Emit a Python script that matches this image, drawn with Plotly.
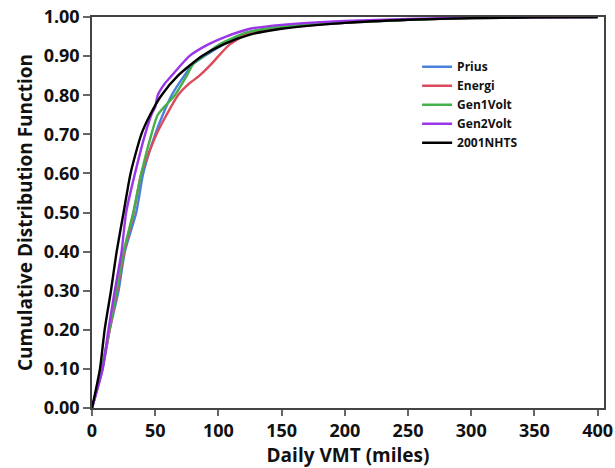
import plotly.graph_objects as go

# Cumulative distribution of daily vehicle miles travelled (VMT)
prius_x = [0, 8.4, 14, 21, 26, 35, 40.5, 50, 56, 63, 73, 80, 89, 104, 122, 150, 200, 250, 300, 350, 400]
prius_y = [0, 0.10, 0.20, 0.30, 0.40, 0.50, 0.60, 0.70, 0.75, 0.80, 0.85, 0.88, 0.90, 0.93, 0.96, 0.975, 0.985, 0.993, 0.997, 0.999, 1.0]

energi_x = [0, 8, 14, 20, 25.5, 33, 39, 51, 59, 68, 77, 85, 94.5, 100, 109, 125, 150, 200, 250, 300, 350, 400]
energi_y = [0, 0.10, 0.20, 0.30, 0.40, 0.50, 0.60, 0.70, 0.75, 0.80, 0.83, 0.85, 0.88, 0.90, 0.93, 0.96, 0.972, 0.985, 0.993, 0.997, 0.999, 1.0]

gen1_x = [0, 7.6, 13.7, 19.5, 25, 32.6, 39, 47, 52, 65.5, 75, 80, 88, 101, 122, 150, 200, 250, 300, 350, 400]
gen1_y = [0, 0.10, 0.20, 0.30, 0.40, 0.50, 0.60, 0.70, 0.75, 0.80, 0.85, 0.88, 0.90, 0.93, 0.96, 0.975, 0.986, 0.993, 0.997, 0.999, 1.0]

gen2_x = [0, 8.4, 13, 18, 23.4, 27, 34, 42, 47, 50, 52, 57.6, 63, 77, 92, 106, 125, 150, 200, 250, 300, 350, 400]
gen2_y = [0, 0.10, 0.20, 0.30, 0.40, 0.50, 0.60, 0.70, 0.75, 0.77, 0.80, 0.83, 0.85, 0.90, 0.93, 0.95, 0.97, 0.98, 0.99, 0.995, 0.998, 0.999, 1.0]

nhts_x = [0, 6.3, 10, 15, 19.5, 25, 30.5, 39, 46, 55, 68, 87, 104, 125, 150, 200, 250, 300, 350, 400]
nhts_y = [0, 0.10, 0.20, 0.30, 0.40, 0.50, 0.60, 0.70, 0.75, 0.80, 0.85, 0.90, 0.93, 0.955, 0.97, 0.985, 0.993, 0.997, 0.999, 1.0]

series = [
    ("Prius", prius_x, prius_y, "#4a7fdb"),
    ("Energi", energi_x, energi_y, "#dc4a5c"),
    ("Gen1Volt", gen1_x, gen1_y, "#45b04a"),
    ("Gen2Volt", gen2_x, gen2_y, "#9b35e8"),
    ("2001NHTS", nhts_x, nhts_y, "#000000"),
]

x_ticks = [0, 50, 100, 150, 200, 250, 300, 350, 400]
y_ticks = [0.0, 0.1, 0.2, 0.3, 0.4, 0.5, 0.6, 0.7, 0.8, 0.9, 1.0]

fig = go.Figure()
for name, xs, ys, color in series:
    fig.add_trace(go.Scatter(
        x=xs, y=ys, mode="lines", name=name,
        line=dict(color=color, width=2.4, shape="spline", smoothing=0.6),
    ))

font_family = "Open Sans, DejaVu Sans, sans-serif"
tick_font = dict(size=18, weight="bold", family=font_family, color="#111111")
title_font = dict(size=19, weight="bold", family=font_family, color="#111111")

fig.update_layout(
    width=615, height=468,
    margin=dict(l=92, r=11, t=17, b=60),
    paper_bgcolor="white", plot_bgcolor="white",
    font=dict(family=font_family, color="#111111"),
    showlegend=True,
    legend=dict(
        x=0.635, y=0.91, xanchor="left", yanchor="top",
        bgcolor="rgba(0,0,0,0)",
        font=dict(size=12, family=font_family, color="#111111", weight="bold"),
        tracegroupgap=0,
    ),
    xaxis=dict(
        range=[0, 405], tickvals=x_ticks,
        ticktext=[str(v) for v in x_ticks],
        showgrid=False, zeroline=False, automargin=False,
        showline=True, linecolor="#444444", linewidth=1.5, mirror=True,
        ticks="outside", ticklen=6, tickcolor="#666666", tickwidth=1.5,
        tickfont=tick_font,
        title=dict(text="Daily VMT (miles)", standoff=6, font=title_font),
    ),
    yaxis=dict(
        range=[0, 1.0], tickvals=y_ticks,
        ticktext=[f"{v:.2f}" for v in y_ticks],
        showgrid=False, zeroline=False, automargin=False,
        showline=True, linecolor="#444444", linewidth=1.5, mirror=True,
        ticks="outside", ticklen=7, tickcolor="#666666", tickwidth=1.5,
        tickfont=tick_font,
        title=dict(text="Cumulative Distribution Function", standoff=6, font=title_font),
    ),
)

fig.write_html("out.html")
